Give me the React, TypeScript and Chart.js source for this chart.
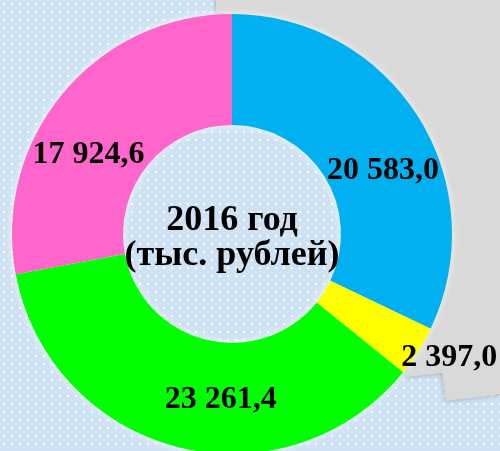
import React, { useEffect, useRef } from "react";
import { Chart, registerables } from "chart.js";

Chart.register(...registerables);

const categories = ["Сегмент 1", "Сегмент 2", "Сегмент 3", "Сегмент 4"];
const values = [20583.0, 2397.0, 23261.4, 17924.6];
const valueLabels = ["20 583,0", "2 397,0", "23 261,4", "17 924,6"];
const colors = ["#00B0F0", "#FFFF00", "#00FF00", "#FF66CC"];
const centerLines = ["2016 год", "(тыс. рублей)"];
// label nudges (px) relative to the middle of each arc
const labelNudges = [
  [12, 25],
  [78, 36],
  [29, 6],
  [-17, 26],
];

const FONT = "bold 32px 'Liberation Serif', 'Times New Roman', serif";
const CENTER_FONT = "bold 36px 'Liberation Serif', 'Times New Roman', serif";

const bgPlugin = {
  id: "bgShape",
  beforeDatasetsDraw(chart: any) {
    const ctx = chart.ctx;
    ctx.save();
    ctx.fillStyle = "#D9D9D9";
    ctx.shadowColor = "rgba(120,120,120,0.6)";
    ctx.shadowBlur = 5;
    ctx.beginPath();
    const pts = [
      [216, -10],
      [510, -10],
      [510, 393],
      [446, 401],
      [442, 373],
      [406, 377],
      [420, 300],
      [360, 100],
      [240, 16],
      [216, 12],
    ];
    pts.forEach((p, i) => (i ? ctx.lineTo(p[0], p[1]) : ctx.moveTo(p[0], p[1])));
    ctx.closePath();
    ctx.fill();
    ctx.restore();
    // white glow around the ring
    const arc = chart.getDatasetMeta(0).data[0];
    if (arc) {
      const p = arc.getProps(["x", "y", "innerRadius", "outerRadius"], true);
      ctx.save();
      ctx.shadowColor = "rgba(255,255,255,1)";
      ctx.shadowBlur = 9;
      ctx.fillStyle = "#ffffff";
      ctx.beginPath();
      ctx.arc(p.x, p.y, p.outerRadius - 1, 0, Math.PI * 2);
      ctx.arc(p.x, p.y, p.innerRadius + 1, 0, Math.PI * 2, true);
      ctx.fill();
      ctx.restore();
    }
  },
  afterDatasetsDraw(chart: any) {
    const ctx = chart.ctx;
    const meta = chart.getDatasetMeta(0);
    ctx.save();
    ctx.fillStyle = "#000";
    ctx.font = FONT;
    ctx.textAlign = "center";
    ctx.textBaseline = "middle";
    meta.data.forEach((arc: any, i: number) => {
      const p = arc.getProps(["x", "y", "startAngle", "endAngle", "innerRadius", "outerRadius"], true);
      const a = (p.startAngle + p.endAngle) / 2;
      const r = (p.innerRadius + p.outerRadius) / 2;
      const x = p.x + Math.cos(a) * r + labelNudges[i][0];
      const y = p.y + Math.sin(a) * r + labelNudges[i][1];
      ctx.fillText(valueLabels[i], x, y);
    });
    const cx = (chart.chartArea.left + chart.chartArea.right) / 2;
    const cy = (chart.chartArea.top + chart.chartArea.bottom) / 2;
    ctx.font = CENTER_FONT;
    ctx.textBaseline = "alphabetic";
    ctx.fillText(centerLines[0], cx, cy - 4);
    ctx.fillText(centerLines[1], cx, cy + 31);
    ctx.restore();
  },
};

export default function App() {
  const ref = useRef<HTMLCanvasElement>(null);
  useEffect(() => {
    document.body.style.margin = "0";
    const chart = new Chart(ref.current!, {
      type: "doughnut",
      data: {
        labels: categories,
        datasets: [
          {
            data: values,
            backgroundColor: colors,
            borderWidth: 0,
            hoverOffset: 0,
          },
        ],
      },
      options: {
        animation: false,
        responsive: false,
        cutout: "49.5%",
        layout: { padding: { left: 12, right: 48, top: 14, bottom: 16 } },
        plugins: { legend: { display: false }, tooltip: { enabled: false } },
        events: [],
      },
      plugins: [bgPlugin],
    });
    return () => chart.destroy();
  }, []);
  return (
    <div
      style={{
        width: 500,
        height: 451,
        overflow: "hidden",
        backgroundColor: "#CFE2F3",
        backgroundImage:
          "radial-gradient(circle, rgba(255,255,255,0.85) 1px, transparent 1.6px)",
        backgroundSize: "8px 8px",
        position: "relative",
      }}
    >
      <canvas ref={ref} width={500} height={470} style={{ display: "block" }} />
    </div>
  );
}
